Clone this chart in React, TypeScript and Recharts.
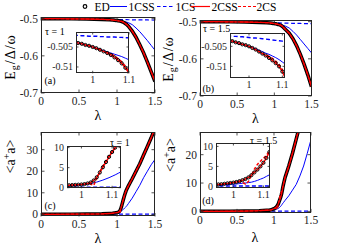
import React from 'react';
import { LineChart, Line, XAxis, YAxis } from 'recharts';

const AX = '#262626';
const FONT = '"Liberation Serif", "Times New Roman", serif';
const BLUE = '#0000ff';
const RED = '#ff0000';

// coupling strength lambda
const LAM = [0, 0.2, 0.4, 0.6, 0.8, 0.9, 0.94, 0.95, 0.96, 0.97, 0.98, 0.99, 1.0, 1.01, 1.02, 1.03, 1.04, 1.05, 1.06, 1.07, 1.08, 1.09, 1.1, 1.11, 1.12, 1.13, 1.15, 1.2, 1.25, 1.3, 1.35, 1.4, 1.45, 1.5];

// (a) ground-state energy, tau = 1
const ED_A = [-0.5, -0.5001, -0.5004, -0.5009, -0.5018, -0.5028, -0.5035, -0.5037, -0.504, -0.5042, -0.5045, -0.5047, -0.505, -0.5053, -0.5057, -0.5061, -0.5065, -0.507, -0.5076, -0.5083, -0.5091, -0.5102, -0.5115, -0.513, -0.5146, -0.5163, -0.52, -0.5335, -0.55, -0.57, -0.592, -0.617, -0.643, -0.669];
const CSS1_A = [-0.5, -0.5001, -0.5004, -0.5009, -0.5018, -0.5028, -0.5035, -0.5037, -0.504, -0.5042, -0.5045, -0.5047, -0.505, -0.5053, -0.5056, -0.5059, -0.5062, -0.5065, -0.5068, -0.5071, -0.5074, -0.5078, -0.5082, -0.5086, -0.509, -0.5095, -0.5107, -0.516, -0.525, -0.535, -0.547, -0.559, -0.572, -0.585];
const CS1_A = [-0.5, -0.5, -0.5001, -0.5003, -0.5009, -0.5015, -0.502, -0.5021, -0.5021, -0.5022, -0.5022, -0.5023, -0.5023, -0.5023, -0.5024, -0.5024, -0.5025, -0.5025, -0.5025, -0.5026, -0.5026, -0.5027, -0.5027, -0.5027, -0.5028, -0.5028, -0.5029, -0.503, -0.5031, -0.5033, -0.5034, -0.5035, -0.5036, -0.5037];
const CSS2_A = [-0.5, -0.5001, -0.5004, -0.5009, -0.5018, -0.5028, -0.5035, -0.5037, -0.504, -0.5042, -0.5045, -0.5047, -0.505, -0.5053, -0.5057, -0.5061, -0.5065, -0.507, -0.5076, -0.5083, -0.5091, -0.5102, -0.5115, -0.513, -0.5146, -0.5163, -0.52, -0.5335, -0.55, -0.57, -0.592, -0.617, -0.643, -0.669];
const CS2_A = [-0.5, -0.5001, -0.5004, -0.5009, -0.5018, -0.5028, -0.5035, -0.5037, -0.504, -0.5042, -0.5045, -0.5047, -0.505, -0.5053, -0.5057, -0.5061, -0.5063, -0.5067, -0.5072, -0.5079, -0.5087, -0.5098, -0.5113, -0.513, -0.5146, -0.5163, -0.52, -0.5335, -0.55, -0.57, -0.592, -0.617, -0.643, -0.669];

// (b) ground-state energy, tau = 1.5
const ED_B = [-0.5, -0.5001, -0.5004, -0.5009, -0.5018, -0.5027, -0.5034, -0.5037, -0.504, -0.5042, -0.5045, -0.5047, -0.505, -0.5054, -0.5058, -0.5063, -0.5068, -0.5073, -0.5079, -0.5085, -0.5092, -0.51, -0.5113, -0.5131, -0.515, -0.517, -0.521, -0.531, -0.546, -0.565, -0.588, -0.614, -0.643, -0.675];
const CSS1_B = [-0.5, -0.5001, -0.5004, -0.5009, -0.5018, -0.5027, -0.5034, -0.5037, -0.504, -0.5042, -0.5045, -0.5047, -0.505, -0.5053, -0.5056, -0.506, -0.5063, -0.5067, -0.507, -0.5074, -0.5078, -0.5083, -0.5089, -0.5095, -0.51, -0.5106, -0.512, -0.517, -0.526, -0.536, -0.548, -0.56, -0.572, -0.584];
const CS1_B = [-0.5, -0.5, -0.5001, -0.5004, -0.501, -0.5017, -0.5024, -0.5025, -0.5025, -0.5026, -0.5026, -0.5027, -0.5028, -0.5029, -0.5029, -0.503, -0.5031, -0.5032, -0.5033, -0.5034, -0.5035, -0.5036, -0.5037, -0.5038, -0.5038, -0.5039, -0.504, -0.5042, -0.5044, -0.5046, -0.5048, -0.505, -0.5052, -0.5053];
const CSS2_B = [-0.5, -0.5001, -0.5004, -0.5009, -0.5018, -0.5027, -0.5034, -0.5037, -0.504, -0.5042, -0.5045, -0.5047, -0.505, -0.5054, -0.5058, -0.5063, -0.5068, -0.5073, -0.5079, -0.5085, -0.5092, -0.51, -0.5113, -0.5131, -0.515, -0.517, -0.521, -0.531, -0.546, -0.565, -0.588, -0.614, -0.643, -0.675];
const CS2_B = [-0.5, -0.5001, -0.5004, -0.5009, -0.5018, -0.5027, -0.5034, -0.5037, -0.504, -0.5042, -0.5045, -0.5047, -0.505, -0.5054, -0.5058, -0.5063, -0.5068, -0.507, -0.5075, -0.508, -0.5087, -0.5095, -0.5108, -0.5127, -0.515, -0.517, -0.521, -0.531, -0.546, -0.565, -0.588, -0.614, -0.643, -0.675];

// (c) photon number, tau = 1
const ED_C = [0.02, 0.03, 0.06, 0.1, 0.2, 0.4, 0.5, 0.55, 0.6, 0.65, 0.7, 0.75, 0.8, 0.9, 1.05, 1.3, 1.8, 2.6, 3.8, 5.1, 6.4, 7.7, 8.9, 10, 11, 11.8, 13.2, 16.5, 20, 23.5, 27.5, 31.5, 35.5, 40];
const CSS1_C = [0.02, 0.03, 0.06, 0.1, 0.2, 0.35, 0.45, 0.48, 0.52, 0.56, 0.6, 0.65, 0.7, 0.8, 0.9, 1.05, 1.2, 1.4, 1.65, 1.9, 2.2, 2.5, 2.85, 3.2, 3.6, 4.0, 5.0, 7.5, 10.5, 13.5, 17, 20, 23, 25.5];
const CS1_C = [0.1, 0.1, 0.1, 0.1, 0.1, 0.1, 0.1, 0.1, 0.1, 0.1, 0.1, 0.1, 0.1, 0.1, 0.1, 0.1, 0.1, 0.1, 0.1, 0.1, 0.1, 0.1, 0.1, 0.1, 0.1, 0.1, 0.1, 0.1, 0.1, 0.1, 0.1, 0.1, 0.1, 0.1];
const CSS2_C = [0.02, 0.03, 0.06, 0.1, 0.2, 0.4, 0.5, 0.55, 0.6, 0.65, 0.7, 0.75, 0.8, 0.9, 1.05, 1.3, 1.8, 2.6, 3.8, 5.1, 6.4, 7.7, 8.9, 10, 11, 11.8, 13.2, 16.5, 20, 23.5, 27.5, 31.5, 35.5, 40];
const CS2_C = [0.02, 0.03, 0.06, 0.1, 0.2, 0.4, 0.5, 0.55, 0.6, 0.65, 0.7, 0.75, 0.8, 0.9, 1.05, 0.9, 0.6, 2.3, 4.0, 5.4, 6.7, 7.9, 9.0, 10, 11, 11.8, 13.2, 16.5, 20, 23.5, 27.5, 31.5, 35.5, 40];

// (d) photon number, tau = 1.5
const ED_D = [0.02, 0.03, 0.06, 0.12, 0.25, 0.4, 0.45, 0.5, 0.55, 0.65, 0.75, 0.85, 0.95, 1.1, 1.3, 1.55, 1.85, 2.25, 2.8, 3.5, 4.2, 5.0, 5.9, 7.1, 8.6, 9.8, 12, 16, 20.5, 25.5, 30.5, 36, 41.5, 47];
const CSS1_D = [0.02, 0.03, 0.06, 0.12, 0.22, 0.3, 0.35, 0.37, 0.4, 0.43, 0.46, 0.5, 0.55, 0.6, 0.7, 0.78, 0.85, 0.95, 1.05, 1.25, 1.5, 1.8, 2.1, 2.5, 2.9, 3.2, 3.9, 5.5, 7.5, 9.5, 12.5, 16, 20.5, 25.3];
const CS1_D = [0.1, 0.1, 0.1, 0.1, 0.1, 0.1, 0.1, 0.1, 0.1, 0.1, 0.1, 0.1, 0.1, 0.1, 0.1, 0.1, 0.1, 0.1, 0.1, 0.1, 0.1, 0.1, 0.1, 0.1, 0.1, 0.1, 0.1, 0.1, 0.1, 0.1, 0.1, 0.1, 0.1, 0.1];
const CSS2_D = [0.02, 0.03, 0.06, 0.12, 0.25, 0.4, 0.45, 0.5, 0.55, 0.65, 0.75, 0.85, 0.95, 1.1, 1.3, 1.55, 1.85, 2.25, 2.8, 3.5, 4.2, 5.0, 5.9, 7.1, 8.6, 9.8, 12, 16, 20.5, 25.5, 30.5, 36, 41.5, 47];
const CS2_D = [0.02, 0.03, 0.06, 0.12, 0.25, 0.4, 0.45, 0.5, 0.55, 0.65, 0.75, 0.85, 0.95, 1.1, 1.3, 1.0, 0.6, 1.2, 2.8, 4.3, 5.5, 6.3, 7.0, 7.8, 8.8, 9.8, 12, 16, 20.5, 25.5, 30.5, 36, 41.5, 47];

const X_TICKS = [0, 0.5, 1, 1.5];
const INSET_X_TICKS = [1, 1.1];
const E_TICKS = [-0.7, -0.6, -0.5];
const E_INSET_TICKS = [-0.51, -0.505];
const N_TICKS_C = [0, 10, 20, 30];
const N_TICKS_D = [0, 10, 20];
const N_INSET_TICKS = [0, 5, 10];

function build(ed: number[], css1: number[], cs1: number[], css2: number[], cs2: number[]) {
  return LAM.map((lam, i) => ({ lam, ed: ed[i], css1: css1[i], cs1: cs1[i], css2: css2[i], cs2: cs2[i] }));
}

const DATA_A = build(ED_A, CSS1_A, CS1_A, CSS2_A, CS2_A);
const DATA_B = build(ED_B, CSS1_B, CS1_B, CSS2_B, CS2_B);
const DATA_C = build(ED_C, CSS1_C, CS1_C, CSS2_C, CS2_C);
const DATA_D = build(ED_D, CSS1_D, CS1_D, CSS2_D, CS2_D);

type Box = { left: number; top: number; width: number; height: number };

function Plot(props: {
  box: Box;
  data: any[];
  xDomain: number[];
  xTicks: number[];
  yDomain: number[];
  yTicks: number[];
  inset?: boolean;
}) {
  const { box, data, xDomain, xTicks, yDomain, yTicks, inset } = props;
  const YW = 44, MT = 4, MR = 16, XH = 24;
  const W = YW + box.width + MR;
  const H = MT + box.height + XH;
  const pl = YW, pr = YW + box.width, pt = MT, pb = MT + box.height;
  const fs = inset ? 10 : 11.5;
  const tl = inset ? 2.5 : 3.5;
  const gx = inset ? 2.5 : 3.5;
  const gy = 3;

  const XTick = (p: any) => (
    <g>
      <line x1={p.x} x2={p.x} y1={pb} y2={pb - tl} stroke={AX} strokeWidth={0.8} />
      <line x1={p.x} x2={p.x} y1={pt} y2={pt + tl} stroke={AX} strokeWidth={0.8} />
      <text x={p.x} y={pb + gx} dy="0.71em" textAnchor="middle" fontSize={fs} fontFamily={FONT} fill={AX}>
        {String(p.payload.value)}
      </text>
    </g>
  );
  const YTick = (p: any) => (
    <g>
      <line x1={pl} x2={pl + tl} y1={p.y} y2={p.y} stroke={AX} strokeWidth={0.8} />
      <line x1={pr} x2={pr - tl} y1={p.y} y2={p.y} stroke={AX} strokeWidth={0.8} />
      <text x={pl - gy} y={p.y} dy="0.35em" textAnchor="end" fontSize={fs} fontFamily={FONT} fill={AX}>
        {String(p.payload.value)}
      </text>
    </g>
  );

  return (
    <div style={{ position: 'absolute', left: box.left - YW, top: box.top - MT, width: W, height: H }}>
      {inset && (
        <div style={{ position: 'absolute', left: pl, top: pt, width: box.width, height: box.height, background: '#fff' }} />
      )}
      <div style={{ position: 'absolute', left: 0, top: 0 }}>
        <LineChart width={W} height={H} data={data} margin={{ top: MT, right: MR, left: 0, bottom: 0 }}>
          <XAxis
            type="number"
            dataKey="lam"
            domain={xDomain}
            ticks={xTicks}
            allowDataOverflow
            height={XH}
            axisLine={false}
            tickLine={false}
            tickSize={0}
            tickMargin={gx}
            interval={0}
            tick={XTick}
          />
          <YAxis
            type="number"
            domain={yDomain}
            ticks={yTicks}
            allowDataOverflow
            width={YW}
            axisLine={false}
            tickLine={false}
            tickSize={0}
            tickMargin={gy}
            interval={0}
            tick={YTick}
          />
          <Line dataKey="cs1" stroke={BLUE} strokeWidth={inset ? 1.4 : 1.2} strokeDasharray="4 2.5" dot={false} isAnimationActive={false} />
          <Line dataKey="css1" stroke={BLUE} strokeWidth={1} dot={false} isAnimationActive={false} />
          {inset ? null : (
            <Line dataKey="ed" stroke="#000" strokeWidth={3.6} dot={false} isAnimationActive={false} />
          )}
          <Line dataKey="css2" stroke={RED} strokeWidth={inset ? 1.5 : 1.3} dot={false} isAnimationActive={false} />
          <Line dataKey="cs2" stroke={RED} strokeWidth={inset ? 1.5 : 1.2} strokeDasharray="3 2" dot={false} isAnimationActive={false} />
          {inset ? (
            <Line
              dataKey="ed"
              stroke="none"
              dot={{ r: 1.6, stroke: '#000', strokeWidth: 1, fill: 'none' }}
              isAnimationActive={false}
            />
          ) : null}
        </LineChart>
      </div>
      <div
        style={{
          position: 'absolute',
          left: pl,
          top: pt,
          width: box.width,
          height: box.height,
          border: `1px solid ${AX}`,
          boxSizing: 'border-box',
          pointerEvents: 'none',
        }}
      />
    </div>
  );
}

export default function App() {
  const t = { fontFamily: FONT, fill: '#000' } as any;
  return (
    <div style={{ position: 'absolute', left: 0, top: 0, width: 345, height: 250, background: '#fff', overflow: 'hidden' }}>
      {/* (a) */}
      <Plot box={{ left: 41, top: 17, width: 114, height: 76 }} data={DATA_A} xDomain={[0, 1.5]} xTicks={X_TICKS} yDomain={[-0.7, -0.4955]} yTicks={E_TICKS} />
      <Plot box={{ left: 75.5, top: 31.7, width: 53, height: 41.3 }} data={DATA_A} xDomain={[0.954, 1.1]} xTicks={INSET_X_TICKS} yDomain={[-0.51158, -0.50125]} yTicks={E_INSET_TICKS} inset />
      {/* (b) */}
      <Plot box={{ left: 200, top: 19.5, width: 111.5, height: 76 }} data={DATA_B} xDomain={[0, 1.5]} xTicks={X_TICKS} yDomain={[-0.7, -0.4955]} yTicks={E_TICKS} />
      <Plot box={{ left: 230, top: 33.3, width: 55, height: 45 }} data={DATA_B} xDomain={[0.943, 1.108]} xTicks={INSET_X_TICKS} yDomain={[-0.5129, -0.50167]} yTicks={E_INSET_TICKS} inset />
      {/* (c) */}
      <Plot box={{ left: 41, top: 131.5, width: 114, height: 84.5 }} data={DATA_C} xDomain={[0, 1.5]} xTicks={X_TICKS} yDomain={[-1, 38.2]} yTicks={N_TICKS_C} />
      <Plot box={{ left: 66.7, top: 146, width: 54, height: 42.3 }} data={DATA_C} xDomain={[0.953, 1.129]} xTicks={INSET_X_TICKS} yDomain={[-0.15, 10.4]} yTicks={N_INSET_TICKS} inset />
      {/* (d) */}
      <Plot box={{ left: 199.5, top: 132.3, width: 111, height: 80.4 }} data={DATA_D} xDomain={[0, 1.5]} xTicks={X_TICKS} yDomain={[-0.35, 28]} yTicks={N_TICKS_D} />
      <Plot box={{ left: 216, top: 143.3, width: 54, height: 45 }} data={DATA_D} xDomain={[0.942, 1.122]} xTicks={INSET_X_TICKS} yDomain={[-0.4, 10.85]} yTicks={N_INSET_TICKS} inset />

      <svg width={345} height={250} style={{ position: 'absolute', left: 0, top: 0, pointerEvents: 'none' }}>
        {/* legend */}
        <g fontSize={11.5} {...t}>
          <circle cx={85} cy={6.5} r={1.8} fill="none" stroke="#000" strokeWidth={1.2} />
          <text x={94.5} y={6.5} dy="0.35em">ED</text>
          <line x1={110} x2={127} y1={6.5} y2={6.5} stroke={BLUE} strokeWidth={1} />
          <text x={128.5} y={6.5} dy="0.35em">1CSS</text>
          <line x1={157} x2={174.5} y1={6.5} y2={6.5} stroke={BLUE} strokeWidth={1.2} strokeDasharray="3.5 2.5" />
          <text x={175.5} y={6.5} dy="0.35em">1CS</text>
          <line x1={191} x2={210} y1={6.5} y2={6.5} stroke={RED} strokeWidth={1.2} />
          <text x={211.5} y={6.5} dy="0.35em">2CSS</text>
          <line x1={238} x2={256} y1={6.5} y2={6.5} stroke={RED} strokeWidth={1.2} strokeDasharray="3 2" />
          <text x={256.5} y={6.5} dy="0.35em">2CS</text>
        </g>
        {/* y labels */}
        <g transform="translate(10,57) rotate(-90)" {...t} fontSize={14}>
          <text textAnchor="middle" dy="0.35em" letterSpacing={1}>E<tspan dy={3} fontSize={10}>g</tspan><tspan dy={-3}>/Δ/ω</tspan></text>
        </g>
        <g transform="translate(168.5,59) rotate(-90)" {...t} fontSize={14}>
          <text textAnchor="middle" dy="0.35em" letterSpacing={1}>E<tspan dy={3} fontSize={10}>g</tspan><tspan dy={-3}>/Δ/ω</tspan></text>
        </g>
        <g transform="translate(10,156.5) rotate(-90)" {...t} fontSize={14}>
          <text textAnchor="middle" dy="0.35em">&lt;a<tspan dy={-5} fontSize={10}>+</tspan><tspan dy={5}>a&gt;</tspan></text>
        </g>
        <g transform="translate(170,155) rotate(-90)" {...t} fontSize={14}>
          <text textAnchor="middle" dy="0.35em">&lt;a<tspan dy={-5} fontSize={10}>+</tspan><tspan dy={5}>a&gt;</tspan></text>
        </g>
        {/* x labels */}
        <g {...t} fontSize={14} textAnchor="middle">
          <text x={98} y={115} dy="0.35em">λ</text>
          <text x={255.5} y={118} dy="0.35em">λ</text>
          <text x={98} y={238} dy="0.35em">λ</text>
          <text x={255} y={237} dy="0.35em">λ</text>
        </g>
        {/* tau labels and panel tags */}
        <g {...t} fontSize={10}>
          <text x={45} y={31.7} dy="0.35em">τ = 1</text>
          <text x={203} y={28.5} dy="0.35em">τ = 1.5</text>
          <text x={110} y={142.7} dy="0.35em">τ = 1</text>
          <text x={250} y={140} dy="0.35em">τ = 1.5</text>
          <text x={50} y={80} dy="0.35em" textAnchor="middle">(a)</text>
          <text x={208.3} y={88.3} dy="0.35em" textAnchor="middle">(b)</text>
          <text x={50} y={205} dy="0.35em" textAnchor="middle">(c)</text>
          <text x={208} y={200.7} dy="0.35em" textAnchor="middle">(d)</text>
        </g>
      </svg>
    </div>
  );
}
